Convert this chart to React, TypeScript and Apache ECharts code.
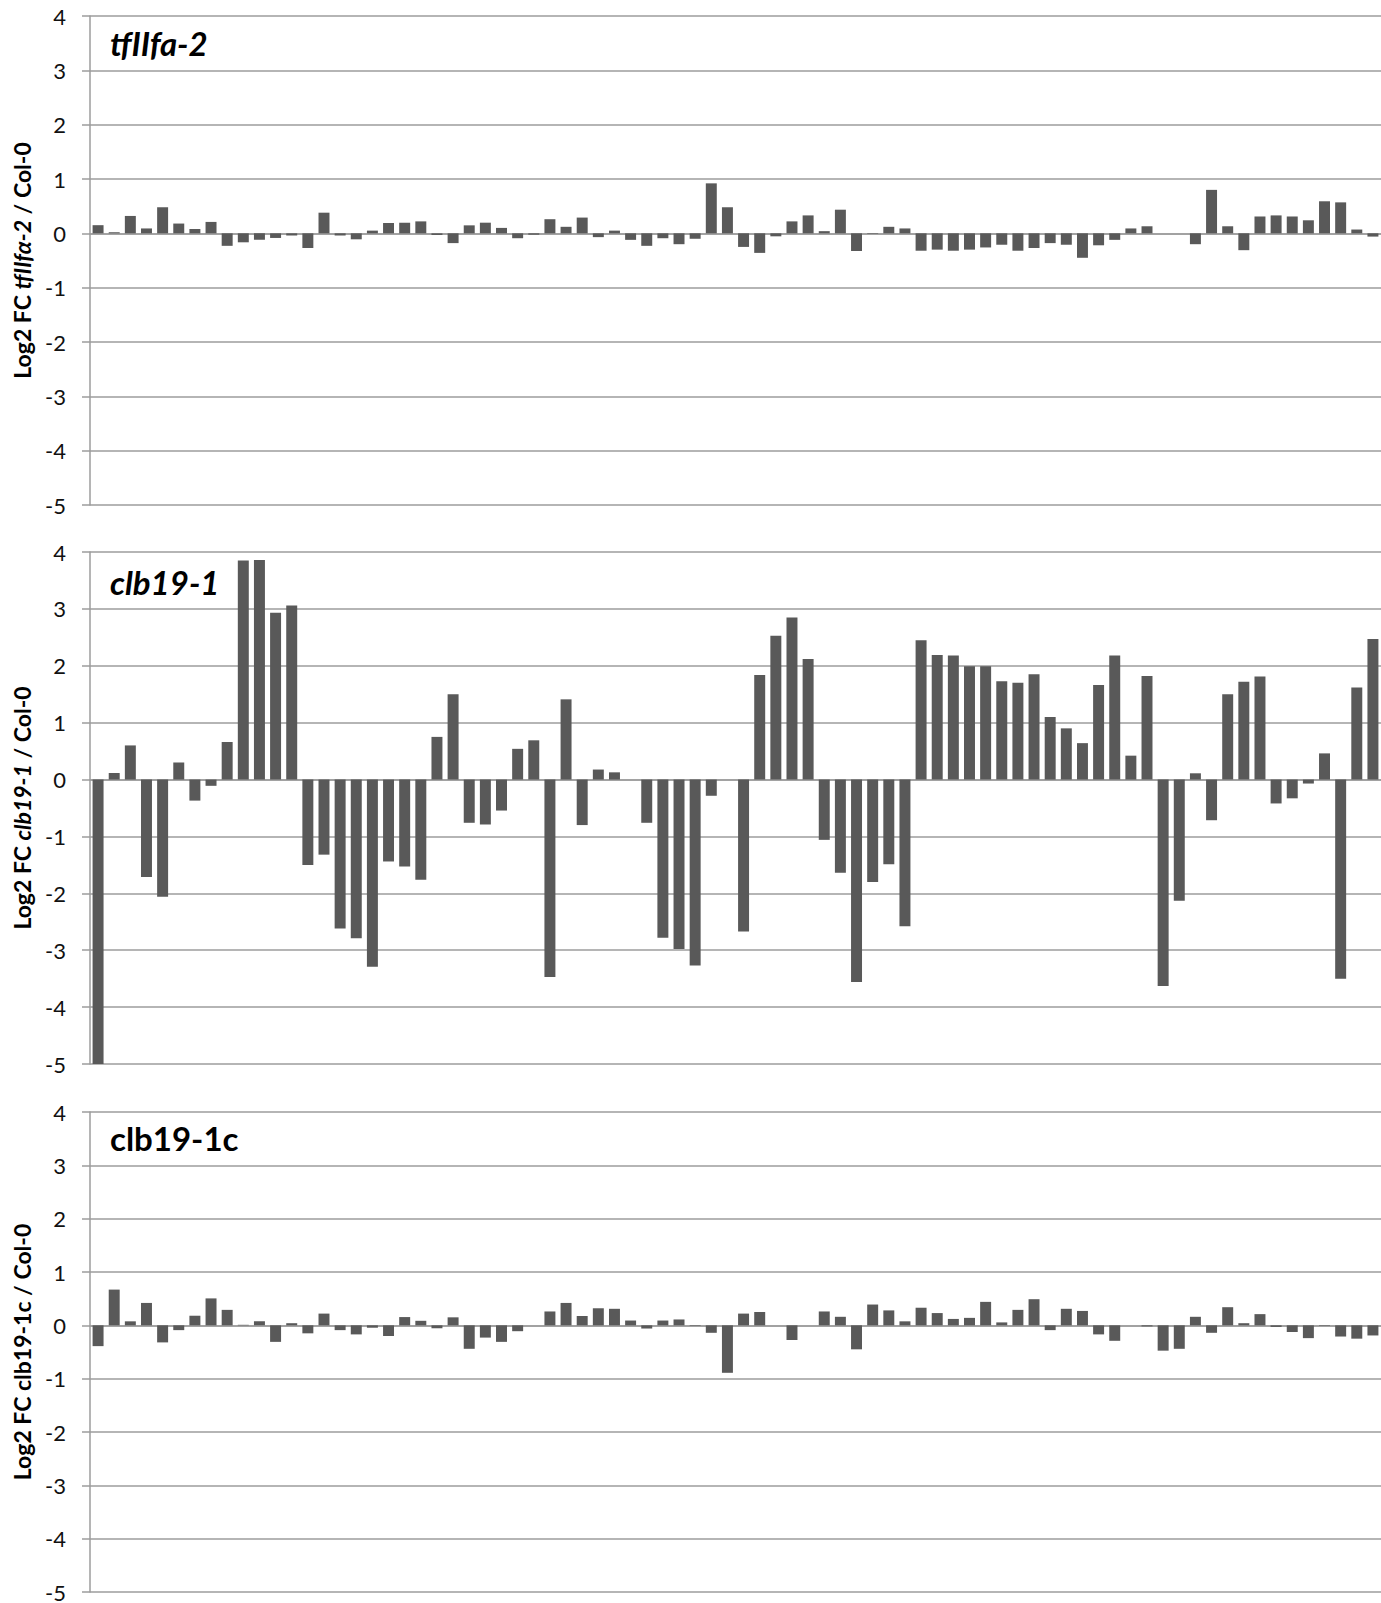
import React, { useEffect, useRef } from "react";
import * as echarts from "echarts";

const categories: string[] = [
  "1","2","3","4","5","6","7","8","9","10","11","12","13","14","15","16","17","18","19","20",
  "21","22","23","24","25","26","27","28","29","30","31","32","33","34","35","36","37","38","39","40",
  "41","42","43","44","45","46","47","48","49","50","51","52","53","54","55","56","57","58","59","60",
  "61","62","63","64","65","66","67","68","69","70","71","72","73","74","75","76","77","78","79","80",
];

const tfIIfa2: number[] = [
  0.15, 0.02, 0.32, 0.09, 0.48, 0.18, 0.08, 0.21, -0.23, -0.165,
  -0.12, -0.085, -0.04, -0.27, 0.38, -0.04, -0.11, 0.05, 0.19, 0.195,
  0.22, -0.03, -0.18, 0.147, 0.196, 0.1, -0.09, -0.025, 0.26, 0.12,
  0.29, -0.07, 0.05, -0.12, -0.23, -0.09, -0.2, -0.1, 0.92, 0.48,
  -0.25, -0.36, -0.055, 0.22, 0.33, 0.04, 0.435, -0.325, -0.01, 0.12,
  0.09, -0.32, -0.3, -0.32, -0.3, -0.26, -0.21, -0.32, -0.27, -0.18,
  -0.21, -0.45, -0.22, -0.12, 0.09, 0.13, 0, 0, -0.2, 0.8,
  0.13, -0.31, 0.31, 0.33, 0.31, 0.24, 0.59, 0.57, 0.07, -0.06,
];

const clb191: number[] = [
  -5.0, 0.115, 0.6, -1.715, -2.06, 0.3, -0.37, -0.11, 0.66, 3.85,
  3.86, 2.93, 3.06, -1.5, -1.32, -2.62, -2.79, -3.29, -1.44, -1.53,
  -1.76, 0.75, 1.5, -0.76, -0.79, -0.545, 0.54, 0.69, -3.47, 1.41,
  -0.8, 0.176, 0.127, 0, -0.76, -2.78, -2.98, -3.27, -0.285, 0,
  -2.67, 1.84, 2.53, 2.85, 2.12, -1.06, -1.64, -3.56, -1.8, -1.49,
  -2.58, 2.45, 2.19, 2.18, 1.99, 1.99, 1.73, 1.7, 1.85, 1.1,
  0.9, 0.64, 1.66, 2.18, 0.42, 1.82, -3.63, -2.13, 0.11, -0.715,
  1.5, 1.72, 1.81, -0.42, -0.33, -0.07, 0.46, -3.5, 1.62, 2.47,
];

const clb191c: number[] = [
  -0.39, 0.67, 0.075, 0.42, -0.32, -0.09, 0.18, 0.505, 0.29, 0.01,
  0.075, -0.31, 0.04, -0.15, 0.22, -0.09, -0.17, -0.045, -0.2, 0.155,
  0.085, -0.055, 0.15, -0.44, -0.23, -0.31, -0.11, 0, 0.26, 0.42,
  0.175, 0.32, 0.31, 0.09, -0.06, 0.09, 0.11, -0.01, -0.14, -0.89,
  0.22, 0.25, 0, -0.275, 0, 0.26, 0.16, -0.45, 0.39, 0.28,
  0.075, 0.33, 0.23, 0.12, 0.14, 0.44, 0.055, 0.29, 0.49, -0.09,
  0.31, 0.27, -0.17, -0.29, 0, -0.02, -0.475, -0.44, 0.16, -0.14,
  0.34, 0.04, 0.21, -0.03, -0.125, -0.24, -0.01, -0.21, -0.25, -0.19,
];

const panelTitles: string[] = ["tfIIfa-2", "clb19-1", "clb19-1c"];
const axisNames: string[] = [
  "Log2 FC {i|tfIIf\u03b1-2} / Col-0",
  "Log2 FC {i|clb19-1} / Col-0",
  "Log2 FC clb19-1c / Col-0",
];
const yMin = -5;
const yMax = 4;

const FONT = "Lato, 'Open Sans', sans-serif";
const GRID_COLOR = "#9d9d9d";
const BAR_COLOR = "#595959";

export default function App() {
  const ref = useRef<HTMLDivElement>(null);

  useEffect(() => {
    if (!ref.current) return;
    const chart = echarts.init(ref.current, null, { renderer: "svg" });
    const grids = [
      { left: 90, right: 0, top: 16, height: 489 },
      { left: 90, right: 0, top: 552, height: 512 },
      { left: 90, right: 0, top: 1112, height: 481 },
    ];
    const titleTops = [26, 565, 1121];
    const seriesData = [tfIIfa2, clb191, clb191c];
    const lineStyle = { color: GRID_COLOR, width: 1.5 };

    const option: any = {
      animation: false,
      backgroundColor: "#ffffff",
      title: panelTitles.map((t, i) => ({
        text: t,
        left: 110,
        top: titleTops[i],
        padding: 0,
        textStyle: {
          fontFamily: FONT,
          fontSize: 33,
          fontWeight: "bold",
          fontStyle: i < 2 ? "italic" : "normal",
          color: "#000",
        },
      })),
      grid: grids,
      xAxis: grids.map((_, i) => ({
        type: "category",
        gridIndex: i,
        data: categories,
        axisLine: { show: true, onZero: true, lineStyle },
        axisTick: { show: false },
        axisLabel: { show: false },
        splitLine: { show: false },
      })),
      yAxis: grids.map((_, i) => ({
        type: "value",
        gridIndex: i,
        min: yMin,
        max: yMax,
        interval: 1,
        axisLine: { show: true, lineStyle },
        axisTick: { show: true, length: 8, lineStyle },
        axisLabel: {
          fontFamily: FONT,
          fontSize: 22,
          color: "#111",
          margin: 24,
        },
        splitLine: { show: true, lineStyle },
        name: axisNames[i],
        nameLocation: "middle",
        nameGap: 57,
        nameRotate: 90,
        nameTextStyle: {
          fontFamily: FONT,
          fontSize: 23,
          fontWeight: "bold",
          color: "#000",
          rich: {
            i: {
              fontFamily: FONT,
              fontSize: 23,
              fontWeight: "bold",
              fontStyle: "italic",
              color: "#000",
            },
          },
        },
      })),
      series: seriesData.map((d, i) => ({
        type: "bar",
        xAxisIndex: i,
        yAxisIndex: i,
        data: d,
        barCategoryGap: "32%",
        itemStyle: { color: BAR_COLOR },
      })),
    };
    chart.setOption(option);
    return () => chart.dispose();
  }, []);

  return (
    <div
      ref={ref}
      style={{ position: "absolute", left: 0, top: 0, width: 1381, height: 1603 }}
    />
  );
}
